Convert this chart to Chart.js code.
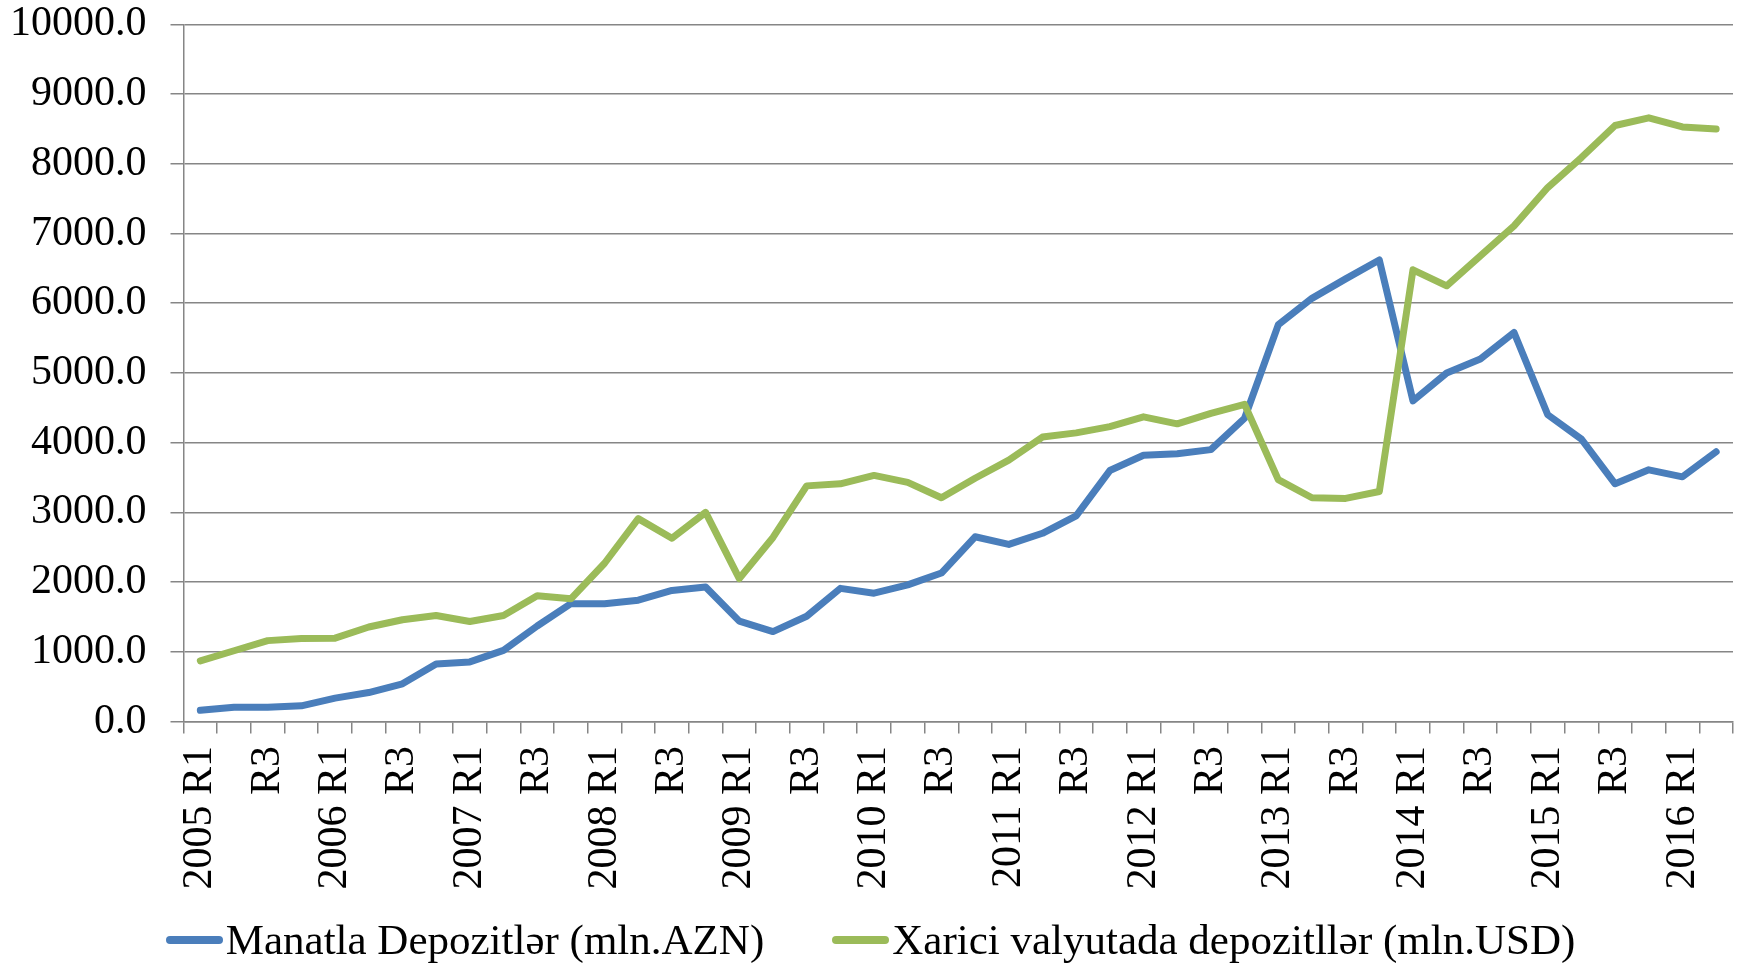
<!DOCTYPE html>
<html>
<head>
<meta charset="utf-8">
<script src="https://cdn.jsdelivr.net/npm/chart.js@4.4.1/dist/chart.umd.min.js"></script>
<style>
  html,body{margin:0;padding:0;background:#fff;}
  #wrap{width:1741px;height:963px;position:relative;overflow:hidden;}
  #legend{position:absolute;left:0;top:918px;width:1741px;height:43px;display:flex;justify-content:center;align-items:center;gap:68px;
    font-family:"Liberation Serif","Times New Roman",serif;font-size:43px;line-height:43px;color:#000;}
  #legend .item{display:flex;align-items:center;white-space:nowrap;}
  #legend .mark{display:inline-block;width:57px;height:8px;border-radius:4px;margin-right:3px;}
</style>
</head>
<body>
<div id="wrap"><canvas id="chart"></canvas><div id="legend"></div></div>
<script>
// ─── DATA ────────────────────────────────────────────────────────────────────
const QUARTERS=[
  '2005 R1','R2','R3','R4','2006 R1','R2','R3','R4','2007 R1','R2','R3','R4',
  '2008 R1','R2','R3','R4','2009 R1','R2','R3','R4','2010 R1','R2','R3','R4',
  '2011 R1','R2','R3','R4','2012 R1','R2','R3','R4','2013 R1','R2','R3','R4',
  '2014 R1','R2','R3','R4','2015 R1','R2','R3','R4','2016 R1','R2'
];
const MANAT=[
  160,205,205,225,335,415,540,825,855,1020,1370,1690,
  1690,1740,1880,1930,1440,1290,1510,1910,1840,1960,2130,2650,
  2540,2700,2950,3600,3820,3840,3900,4350,5690,6070,6350,6620,
  4600,5000,5200,5580,4400,4050,3410,3610,3510,3870
];
const FOREIGN=[
  870,1015,1160,1190,1195,1355,1460,1520,1435,1520,1805,1760,
  2270,2910,2630,3000,2050,2640,3380,3410,3530,3430,3210,3490,
  3750,4080,4140,4230,4370,4270,4420,4550,3470,3210,3200,3300,
  6480,6250,6680,7110,7660,8090,8550,8660,8530,8500
];
const Y_MIN=0, Y_MAX=10000, Y_STEP=1000;
const SERIES_NAMES=['Manatla Depozitlər (mln.AZN)','Xarici valyutada depozitllər (mln.USD)'];
const COLORS=['#4a7ebb','#9bbb59'];

// ─── CHART ───────────────────────────────────────────────────────────────────
const FONT='"Liberation Serif","Times New Roman",serif';
const GRID='#868686';

// tiny lineHeight on tick fonts: single-line labels draw the same,
// but the scale stops reserving half a line of padding at the plot edges
const chart=new Chart(document.getElementById('chart').getContext('2d'),{
  type:'line',
  data:{labels:QUARTERS,datasets:[
    {label:SERIES_NAMES[0],data:MANAT,borderColor:COLORS[0],backgroundColor:COLORS[0],borderWidth:7,pointRadius:0,tension:0,borderCapStyle:'round',borderJoinStyle:'round',order:1},
    {label:SERIES_NAMES[1],data:FOREIGN,borderColor:COLORS[1],backgroundColor:COLORS[1],borderWidth:7,pointRadius:0,tension:0,borderCapStyle:'round',borderJoinStyle:'round',order:0}
  ]},
  options:{
    responsive:true,maintainAspectRatio:false,animation:false,
    layout:{padding:{left:-14,right:8,top:0,bottom:61}},
    plugins:{legend:{display:false},tooltip:{enabled:false}},
    scales:{
      x:{
        offset:true,
        grid:{offset:true,drawOnChartArea:false,drawTicks:true,tickLength:12,color:GRID,lineWidth:1.5},
        border:{color:GRID,width:1.5},
        ticks:{color:'#000',font:{family:FONT,size:42,lineHeight:0.1},autoSkip:false,maxRotation:90,minRotation:90,padding:12.5,
          callback:(v,i)=> i%2===0 ? QUARTERS[i] : ''}
      },
      y:{
        min:Y_MIN,max:Y_MAX,
        grid:{color:GRID,lineWidth:1.5,tickLength:13},
        border:{color:GRID,width:1.5},
        ticks:{color:'#000',font:{family:FONT,size:42,lineHeight:0.02},stepSize:Y_STEP,padding:24,callback:v=>v.toFixed(1)}
      }
    }
  }
});

// ─── LEGEND (html, so the line marker can sit right against the text) ───────
document.getElementById('legend').innerHTML=chart.data.datasets.map(ds=>
  `<div class="item"><span class="mark" style="background:${ds.borderColor}"></span>${ds.label}</div>`).join('');
</script>
</body>
</html>
